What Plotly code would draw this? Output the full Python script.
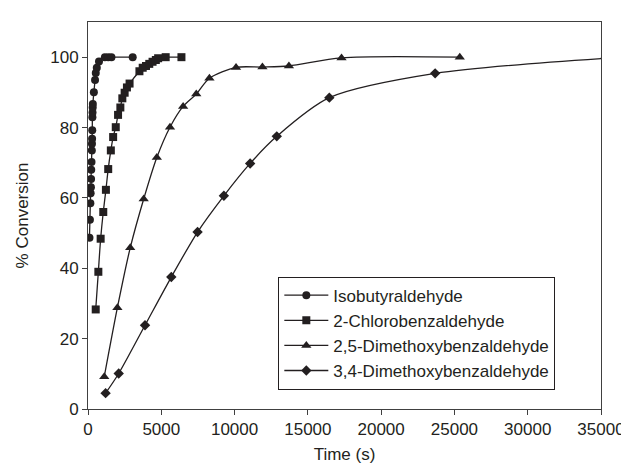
import plotly.graph_objects as go

# Isobutyraldehyde
iso_t = [100, 130, 160, 180, 200, 210, 220, 240, 260, 270, 280, 290, 300, 310, 320, 330,
         400, 480, 530, 600, 750, 1150, 1380, 1600, 3050]
iso_c = [48.7, 53.8, 58.5, 61.3, 63.0, 65.4, 68.0, 70.2, 73.5, 75.4, 76.8, 79.2, 82.9, 84.3,
         85.7, 86.7, 90.0, 93.5, 95.5, 97.0, 98.8, 100.0, 100.0, 100.0, 100.0]

# 2-Chlorobenzaldehyde
clb_t = [527, 706, 863, 1042, 1222, 1379, 1558, 1715, 1894, 2051, 2208, 2343, 2500, 2656,
         2836, 3509, 3732, 3956, 4180, 4405, 4628, 4786, 5300, 6375]
clb_c = [28.3, 39.0, 48.4, 56.0, 62.3, 68.2, 73.5, 77.3, 80.1, 83.6, 85.7, 88.3, 89.9, 91.4,
         92.5, 96.0, 97.0, 97.5, 98.1, 98.7, 99.2, 99.7, 100.0, 100.0]

# 2,5-Dimethoxybenzaldehyde
dmb25_t = [1110, 2005, 2880, 3800, 4695, 5594, 6490, 7386, 8283, 10100, 11900, 13707, 17296, 25365]
dmb25_c = [9.2, 28.8, 45.8, 59.7, 71.5, 80.1, 86.0, 89.5, 94.0, 97.1, 97.2, 97.5, 99.8, 100.0]

# 3,4-Dimethoxybenzaldehyde
dmb34_t = [1200, 2095, 3890, 5683, 7475, 9270, 11063, 12880, 16465, 23685, 35300]
dmb34_c = [4.5, 10.1, 23.8, 37.5, 50.3, 60.6, 69.8, 77.5, 88.5, 95.4, 99.7]

names = ["Isobutyraldehyde", "2-Chlorobenzaldehyde",
         "2,5-Dimethoxybenzaldehyde", "3,4-Dimethoxybenzaldehyde"]

x_ticks = [0, 5000, 10000, 15000, 20000, 25000, 30000, 35000]
y_ticks = [0, 20, 40, 60, 80, 100]

INK = "#231f20"
FONT = "Liberation Sans, Arial, sans-serif"

series = [
    (iso_t, iso_c, names[0], "circle", 8),
    (clb_t, clb_c, names[1], "square", 8),
    (dmb25_t, dmb25_c, names[2], "triangle-up", 9),
    (dmb34_t, dmb34_c, names[3], "diamond", 8),
]

fig = go.Figure()
for t, c, n, sym, sz in series:
    fig.add_trace(go.Scatter(
        x=t, y=c, name=n, mode="lines+markers",
        line=dict(color=INK, width=1.3, shape="spline", smoothing=0.8),
        marker=dict(symbol=sym, size=sz, color=INK, line=dict(width=0)),
    ))

fig.update_layout(
    width=629, height=464,
    margin=dict(l=79.5, r=29, t=14, b=59.5),
    paper_bgcolor="white", plot_bgcolor="white",
    font=dict(family=FONT, size=17, color=INK),
    showlegend=True,
    legend=dict(
        x=0.371, y=0.342, xanchor="left", yanchor="top",
        bgcolor="white", bordercolor=INK, borderwidth=1,
        font=dict(family=FONT, size=17, color=INK),
        tracegroupgap=0, itemwidth=44,
    ),
    xaxis=dict(
        range=[0, 35000], tickvals=x_ticks, ticktext=[str(v) for v in x_ticks],
        showgrid=False, zeroline=False,
        showline=True, linecolor="#404040", linewidth=1, mirror=True,
        ticks="outside", ticklen=5, tickcolor="#404040",
        title=dict(text="Time (s)", standoff=9, font=dict(size=17)),
    ),
    yaxis=dict(
        range=[0, 110], tickvals=y_ticks, ticktext=[str(v) for v in y_ticks],
        showgrid=False, zeroline=False,
        showline=True, linecolor="#404040", linewidth=1, mirror=True,
        ticks="outside", ticklen=5, tickcolor="#404040",
        title=dict(text="% Conversion", standoff=17, font=dict(size=17)),
    ),
)

fig.write_html("out.html")
